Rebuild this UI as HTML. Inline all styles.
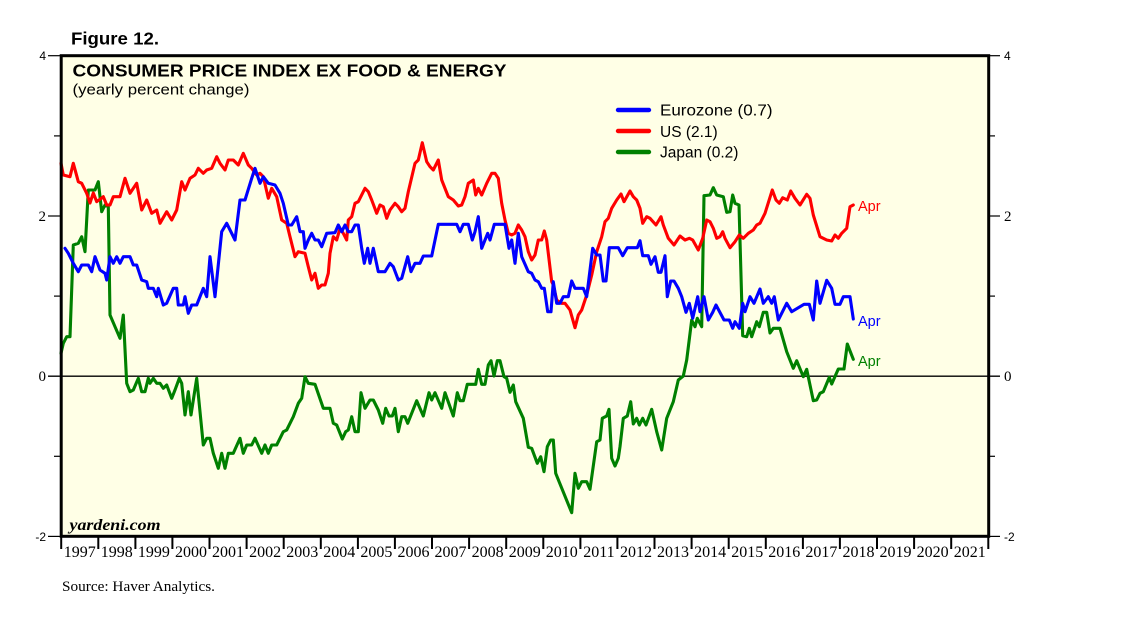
<!DOCTYPE html>
<html><head><meta charset="utf-8"><style>
html,body{margin:0;padding:0;background:#fff;}
svg{display:block;}
</style></head><body>
<svg width="1138" height="621" viewBox="0 0 1138 621" xmlns="http://www.w3.org/2000/svg">
<rect x="0" y="0" width="1138" height="621" fill="#ffffff"/>
<text x="71" y="44.5" font-family="Liberation Sans, sans-serif" font-weight="bold" font-size="17.5" textLength="88" lengthAdjust="spacingAndGlyphs">Figure 12.</text>
<rect x="61.2" y="55.7" width="927.5" height="480.6" fill="#FFFFE6"/>
<!-- zero line -->
<line x1="48" y1="376.2" x2="1000" y2="376.2" stroke="#000" stroke-width="1.3"/>
<!-- left ticks -->
<g stroke="#000" stroke-width="1.2">
<line x1="48" y1="55.7" x2="61" y2="55.7"/>
<line x1="54" y1="135.9" x2="61" y2="135.9"/>
<line x1="48" y1="216" x2="61" y2="216"/>
<line x1="54" y1="296.1" x2="61" y2="296.1"/>
<line x1="54" y1="456.3" x2="61" y2="456.3"/>
<line x1="48" y1="536.4" x2="61" y2="536.4"/>
<line x1="989" y1="55.7" x2="1000" y2="55.7"/>
<line x1="989" y1="135.9" x2="995" y2="135.9"/>
<line x1="989" y1="216" x2="1000" y2="216"/>
<line x1="989" y1="296.1" x2="995" y2="296.1"/>
<line x1="989" y1="456.3" x2="995" y2="456.3"/>
<line x1="989" y1="536.4" x2="1000" y2="536.4"/>
</g>
<g font-family="Liberation Sans, sans-serif" font-size="12" fill="#000">
<text x="46" y="60" text-anchor="end">4</text>
<text x="46" y="541" text-anchor="end">-2</text>
<text x="1004" y="60">4</text>
<text x="1004" y="541">-2</text>
</g>
<g font-family="Liberation Serif, serif" font-size="15" fill="#000">
<text x="46" y="221" text-anchor="end">2</text>
<text x="46" y="381" text-anchor="end">0</text>
<text x="1004" y="221">2</text>
<text x="1004" y="381">0</text>
</g>
<!-- title -->
<text x="72.5" y="76.5" font-family="Liberation Sans, sans-serif" font-weight="bold" font-size="17.5" textLength="434" lengthAdjust="spacingAndGlyphs">CONSUMER PRICE INDEX EX FOOD &amp; ENERGY</text>
<text x="72.5" y="94.5" font-family="Liberation Sans, sans-serif" font-size="15" textLength="177" lengthAdjust="spacingAndGlyphs">(yearly percent change)</text>
<!-- legend -->
<g stroke-width="4.4" stroke-linecap="round">
<line x1="618" y1="110" x2="649" y2="110" stroke="#0000FF"/>
<line x1="618" y1="131" x2="649" y2="131" stroke="#FF0000"/>
<line x1="618" y1="152" x2="649" y2="152" stroke="#008000"/>
</g>
<g font-family="Liberation Sans, sans-serif" font-size="15.5" fill="#000">
<text x="660" y="115.7" textLength="112.5" lengthAdjust="spacingAndGlyphs">Eurozone (0.7)</text>
<text x="660" y="136.8">US (2.1)</text>
<text x="660" y="157.5">Japan (0.2)</text>
</g>
<text x="69.5" y="530" font-family="Liberation Serif, serif" font-style="italic" font-weight="bold" font-size="15.5" textLength="91" lengthAdjust="spacingAndGlyphs">yardeni.com</text>
<!-- series -->
<g fill="none" stroke-width="3.1" stroke-linejoin="round" stroke-linecap="round">
<polyline stroke="#008000" points="61,353.3 63.3,343.3 66.7,336.7 70,336.7 73.3,245 78.3,243.3 81.7,236.7 85,251.7 88.3,190 95,190 98.3,181.7 101.7,211.7 105,205 108.3,206.7 110,315 115,326.7 120,338.3 123.3,315 126.7,383.3 130,391.7 133.3,390 138.3,378.3 141.7,391.7 145,391.7 148.3,378.3 150,383.3 153.3,378.3 156.7,383.3 160,383.3 163.3,388.3 166.7,385 171.7,398.3 175,390 179.3,378.3 181.7,383.3 185,415 188.3,391.7 191,415 196.7,378.3 203.3,445 206.7,438.3 210,438.3 213.3,453.3 218.3,468.3 221.7,453.3 225,468.3 228.3,453.3 233.3,453.3 240,438.3 243.3,453.3 246.7,445 251.7,445 255,438.3 261.7,453.3 265,445 268.3,453.3 271.7,445 276.7,445 283.3,431.7 286.7,430 293.3,416.7 298.3,403.3 301.7,398.3 305,376.7 308.3,383.3 315,384.3 323.3,408.3 330,408.3 333.3,423.3 336.7,425 342.3,439 345.7,431.7 348.3,430 351.7,416.7 355,431.7 358.3,431.7 361,392.7 365,408.3 370,400 373.3,400 378.3,410 382.7,423.3 385.7,408.3 389,416 392.3,416 395,408.3 398.3,431.7 401.7,416.7 405,416.7 407.7,423.3 416.7,400.7 423.3,416 429,392.7 431.7,400 435,392.7 441.7,408.3 445,392.7 453.3,416 457.3,392.7 460,400.7 463.3,400.7 467.3,384.3 475.7,384.3 478.3,369.3 481.7,384.3 485,384.3 488.3,365 491,360.7 494,376 497.3,360.7 500,360.7 504,376.7 506.7,378.3 510,392.3 513.3,385 515.7,401.7 523.3,418.3 528.3,447.3 531.7,448.3 537.3,463.3 540.7,456.7 544,471.7 547.3,446.7 550.7,440 553.3,440 555.7,473.3 571.7,512.7 575,473.3 578.3,488.3 581.7,481.7 586.7,481.7 590,489.3 596.7,441.7 600,440 602.3,418.3 606.7,416 609,409.3 611.7,458.3 615,466 618.3,458.3 620,446.7 623.3,418.3 627.3,416 630.7,401.7 633.3,424 636.7,418.3 639.3,425 642.7,418.3 646,425 651.7,409.3 656.7,431.7 661.7,450 666.7,418.3 673.3,401.7 678.3,380 683.3,376 686.7,360 691.7,320 695,326.7 697.3,318.3 701.7,326.7 704,195.7 710,195 713.3,187.7 716.7,195 723.3,196.7 726.7,212.3 730,211.7 732.7,195 735,203.3 739,205 742.7,335.7 746.7,336.7 749.3,328.3 751.7,336.7 756.7,321.7 759.3,326.7 763.3,312.3 766.7,312.3 770,333 773.3,328.3 780,328.3 786.7,351.7 793.3,368.3 796.7,360.7 803.3,376.7 806.7,369.3 813.3,400.7 816.7,400 820,393.3 823.3,391.7 829.3,377.3 831.7,384 838.3,369 844,369 847.3,344 853.3,359.3"/>
<polyline stroke="#FF0000" points="61,163.3 63.3,175 70,176.7 73.3,163.3 78.3,181.7 81.7,183.3 86.7,193.3 90,203 93.3,193 96.7,201.7 103.3,196.7 106.7,205 110,205 113.3,196.7 120,196.7 125,178.3 130,193.3 136.7,183.3 141.7,210 146.7,200 151.7,213.3 156.7,210 160,223.3 166.7,211.7 171.7,220 176.7,210 181.7,181.7 185,190 190,178.3 195,175 198.3,168.3 203.3,173.3 206.7,170 211.7,168.3 216.7,156.7 220,163.3 225,170 228.3,160 233.3,160 238.3,165 243.3,153.3 248.3,165 251.7,168.3 256.7,175 260,173.3 263.3,176.7 268.3,198.3 271.7,188.3 276.7,196.7 281.7,220 286.7,223.3 290,236.7 295,256.7 298.3,251.7 305,253.3 308.3,266.7 311.7,280 315,273.3 318.3,288.3 321.7,285 325,285 328.3,273.3 330,253.3 333.3,236.7 336.7,240 340,228.3 343.3,233.3 346.7,240 348.3,220 351.7,216.7 355,203.3 358.3,201.7 365,188.3 368.3,191.7 371.7,200 376.7,213.3 380,205 383.3,206.7 386.7,218.3 390,210 395,203.3 398.3,206.7 401.7,211.7 405,208.3 408.3,191.7 415,163.3 418.3,160 422.3,142.7 426.7,161.7 430,166.7 433.3,170 438.3,160 441.7,180 448.3,196.7 453.3,200 458.3,206 461.7,205 465,196.7 468.3,183.3 473.3,180 475.7,195 478.3,188.3 481.7,195 486.7,183.3 491.7,173.3 495,173.3 498.3,178.3 501.7,203.3 505,220 508.3,233.3 511.7,235 515,233.3 518.3,225 521.7,230 525,236.7 528.3,251.7 531.7,260 535,255 538.3,240 541.7,240 544.3,231 546.7,240 551.7,281.7 553.3,285 556.7,300 561.7,303.3 565,303.3 570,310 575,327.7 578.3,315 581.7,310 586.7,295 591.7,275 596.7,251.7 601.7,236.7 605,221.7 608.3,218.3 611.7,208.3 616.7,200 621,194 624,201.7 630,191 633.3,196.7 636.7,200 640,208.3 642.7,223.3 646.7,216.7 650,218.3 656,225 661,216.7 663.3,225 668.3,238.3 674,245 680,236 685,240 689.3,238.3 692.7,240 698.3,250 702.7,238.3 706.7,220 710,221.7 713.3,228.3 716.7,238.3 720,236.7 722.7,231.7 725,238.3 730,247.7 735,241.7 739.3,235 743.3,238.3 748.3,233.3 753.3,230 756.7,225 760,223.3 765,213.3 772.3,190 776,200 779.3,203.3 782.7,197.7 787.3,200 790.7,191 795,198.3 800,205 806.7,194.3 810,198.3 813.3,215 820,236.7 826.7,240 831.7,241 835,235 838.3,238.3 841.7,233.3 846.7,228.3 850,206.7 853.3,205"/>
<polyline stroke="#0000FF" points="65,248.3 68.3,253.3 73.3,263.3 78.3,271.7 81.7,265 88.3,265 91.7,271.7 95,256.7 100,270 105,273.3 106.7,280 110,256.7 113.3,263.3 116.7,256.7 120,263.3 123.3,256.7 130,256.7 133.3,265 136.7,265 141.7,280 146.7,281.7 148.3,288.3 153.3,288.3 156.7,296.7 158.3,288.3 163.3,305 166.7,303.3 173.3,288.3 176.7,288.3 178.3,305 183.3,305 185,296.7 188.3,313.3 191.7,305 196.7,305 203.3,288.3 206.7,296.7 210,256.7 215,296.7 221.7,231.7 226.7,223.3 235,240 240,200 245,200 251.7,178.3 255,168.3 260,183.3 263.3,176.7 268.3,183.3 275,185 280,193.3 283.3,203.3 288.3,225 291.7,225 296.7,216.7 300,231.7 303.3,231.7 305,248.3 308.3,240 311.7,233.3 315,240 318.3,240 321.7,246.7 326.7,233.3 335,232.7 338.3,225 341.7,231.7 345,225 348.3,231.7 351.7,231.7 355,225 358.3,225 361.7,248.3 364.3,263.3 367.7,248.3 370,263.3 373.3,248.3 378.3,271.7 385,271.7 390,263.3 393.3,266.7 398.3,280 401.7,278.3 407.7,256.7 411,271.7 415,263.3 420,263.3 423.3,256 431.7,256 438.3,224.3 456.7,224.3 460,231.7 463.3,224.3 468.3,224.3 472.3,240 475,231.7 478.3,216.7 481.7,248.3 485,240 487.7,233.3 490,240 494.3,224.3 505,224.3 509,248.3 511.7,240 515,263.3 518.3,233.3 521.7,256.7 528.3,271.7 531.7,273.3 535,280 538.3,281.7 541.7,288.3 544.3,288.3 547.7,311.7 551,311.7 553.3,281.7 556.7,303.3 560,303.3 563.3,296.7 568.3,296.7 571.7,281 575,288.3 583.3,288.3 586.7,296.7 592.7,248.3 596.7,255 600,255 603.3,281 606,281 609.3,247.7 618.3,247.7 622.7,255.7 627.3,247.7 637.3,247.7 640,240.7 642.7,255.7 648.3,255.7 651,264.3 655,256.7 658.3,272.3 661,272.3 665,255.7 667.3,296.7 670.7,281 674,281 678.3,288.3 681.7,296.7 686,312.3 689.3,303.3 692.7,318.3 697.7,296.7 700,311.7 704,296.7 708.3,320 712.7,312.3 716,305 724,320 729.3,320 732.7,328.3 735,321.7 739.3,328.3 742.7,303.3 745,311.7 750,296.7 754,303.3 760,289 763.3,303.3 768.3,296.7 771.7,303.3 774.3,296.7 778.3,320 786.7,303.3 791.7,311.7 804,304.3 809.3,304.3 813.3,320 816.7,281 820,303.3 826.7,280.3 831.7,288.3 835,304.3 840,304.3 843.3,296.7 850,296.7 853.3,319"/>
</g>
<!-- Apr labels -->
<g font-family="Liberation Sans, sans-serif" font-size="14.5">
<text x="858" y="211" fill="#FF0000">Apr</text>
<text x="858" y="326" fill="#0000FF">Apr</text>
<text x="858" y="366" fill="#008000">Apr</text>
</g>
<!-- frame -->
<rect x="61.2" y="55.7" width="927.5" height="480.6" fill="none" stroke="#000" stroke-width="3"/>
<!-- year ticks -->
<g stroke="#000" stroke-width="2">
<line x1="61.2" y1="536" x2="61.2" y2="549"/>
<line x1="98.3" y1="536" x2="98.3" y2="549"/>
<line x1="135.4" y1="536" x2="135.4" y2="549"/>
<line x1="172.4" y1="536" x2="172.4" y2="549"/>
<line x1="209.5" y1="536" x2="209.5" y2="549"/>
<line x1="246.6" y1="536" x2="246.6" y2="549"/>
<line x1="283.7" y1="536" x2="283.7" y2="549"/>
<line x1="320.8" y1="536" x2="320.8" y2="549"/>
<line x1="357.9" y1="536" x2="357.9" y2="549"/>
<line x1="394.9" y1="536" x2="394.9" y2="549"/>
<line x1="432" y1="536" x2="432" y2="549"/>
<line x1="469.1" y1="536" x2="469.1" y2="549"/>
<line x1="506.2" y1="536" x2="506.2" y2="549"/>
<line x1="543.3" y1="536" x2="543.3" y2="549"/>
<line x1="580.4" y1="536" x2="580.4" y2="549"/>
<line x1="617.4" y1="536" x2="617.4" y2="549"/>
<line x1="654.5" y1="536" x2="654.5" y2="549"/>
<line x1="691.6" y1="536" x2="691.6" y2="549"/>
<line x1="728.7" y1="536" x2="728.7" y2="549"/>
<line x1="765.8" y1="536" x2="765.8" y2="549"/>
<line x1="802.9" y1="536" x2="802.9" y2="549"/>
<line x1="839.9" y1="536" x2="839.9" y2="549"/>
<line x1="877" y1="536" x2="877" y2="549"/>
<line x1="914.1" y1="536" x2="914.1" y2="549"/>
<line x1="951.2" y1="536" x2="951.2" y2="549"/>
<line x1="988.3" y1="536" x2="988.3" y2="549"/>
</g>
<g font-family="Liberation Serif, serif" font-size="16" fill="#000" text-anchor="middle">
<text x="79.7" y="557">1997</text>
<text x="116.8" y="557">1998</text>
<text x="153.9" y="557">1999</text>
<text x="191" y="557">2000</text>
<text x="228" y="557">2001</text>
<text x="265.1" y="557">2002</text>
<text x="302.2" y="557">2003</text>
<text x="339.3" y="557">2004</text>
<text x="376.4" y="557">2005</text>
<text x="413.5" y="557">2006</text>
<text x="450.5" y="557">2007</text>
<text x="487.6" y="557">2008</text>
<text x="524.7" y="557">2009</text>
<text x="561.8" y="557">2010</text>
<text x="598.9" y="557">2011</text>
<text x="636" y="557">2012</text>
<text x="673" y="557">2013</text>
<text x="710.1" y="557">2014</text>
<text x="747.2" y="557">2015</text>
<text x="784.3" y="557">2016</text>
<text x="821.4" y="557">2017</text>
<text x="858.5" y="557">2018</text>
<text x="895.5" y="557">2019</text>
<text x="932.6" y="557">2020</text>
<text x="969.7" y="557">2021</text>
</g>
<text x="62" y="591" font-family="Liberation Serif, serif" font-size="15" textLength="153" lengthAdjust="spacingAndGlyphs">Source: Haver Analytics.</text>
</svg>
</body></html>
